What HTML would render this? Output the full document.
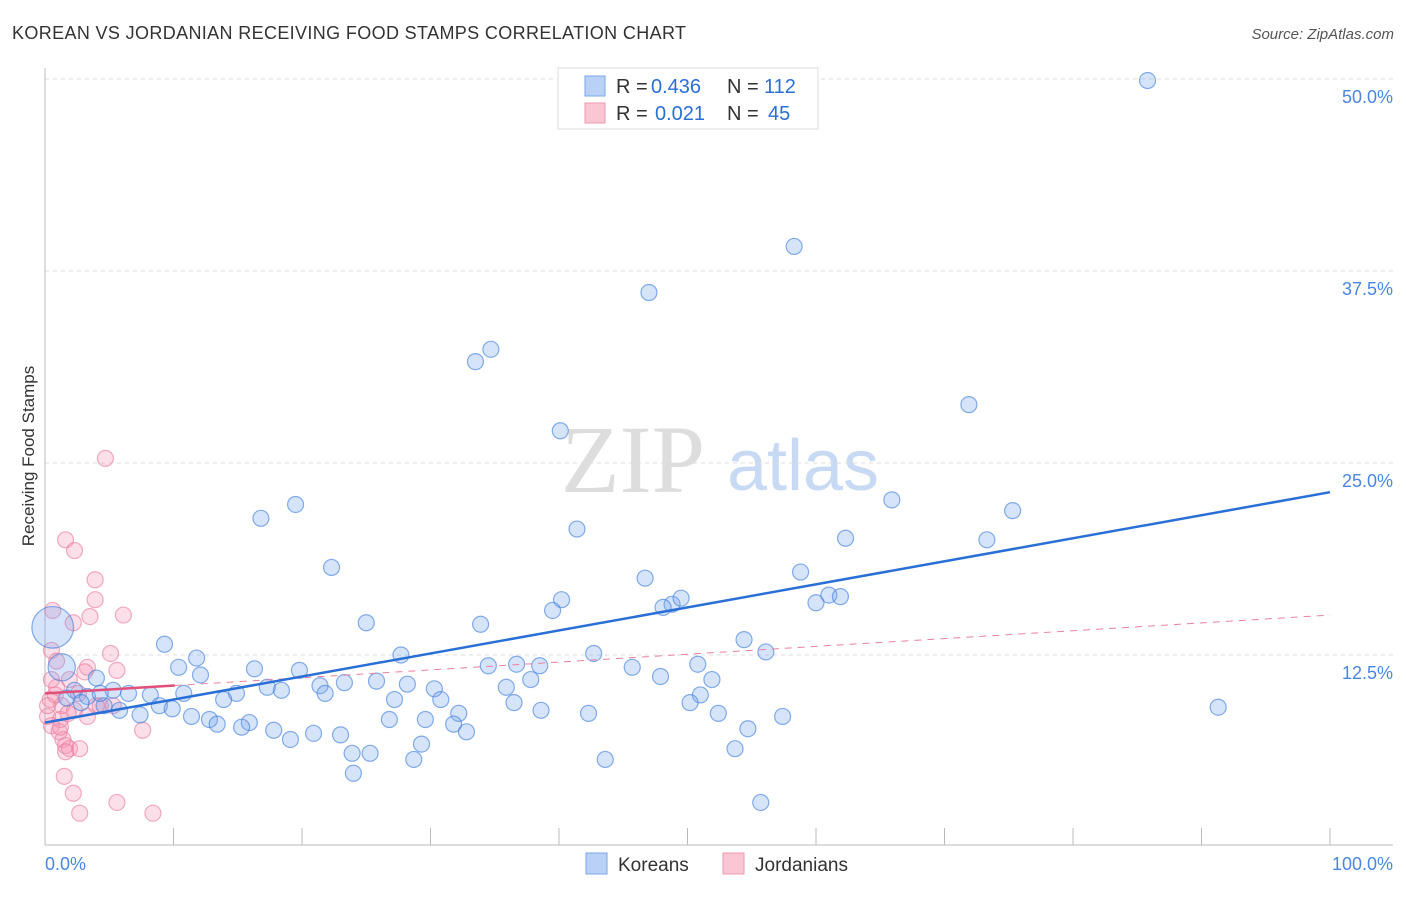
<!DOCTYPE html>
<html><head><meta charset="utf-8"><style>
body{margin:0;background:#fff;font-family:"Liberation Sans",sans-serif;}
svg text{font-family:"Liberation Sans",sans-serif;}
svg text.serif{font-family:"Liberation Serif",serif;}
</style></head><body>
<svg id="c" width="1406" height="892">
<text x="12" y="39" font-size="18" fill="#333" textLength="674">KOREAN VS JORDANIAN RECEIVING FOOD STAMPS CORRELATION CHART</text>
<text x="1394" y="39" font-size="15" fill="#555" font-style="italic" text-anchor="end">Source: ZipAtlas.com</text>
<text transform="translate(34,456) rotate(-90)" font-size="17" fill="#333" text-anchor="middle">Receiving Food Stamps</text>
<text class="serif" x="633" y="492" font-size="96" fill="#ddd" text-anchor="middle">ZIP</text>
<text x="803" y="490" font-size="72" fill="#c8daf3" text-anchor="middle">atlas</text>
<g id="grid"></g><g id="marks"></g>
<g>
<rect x="558" y="68" width="260" height="61" fill="#fff" stroke="#ddd"/>
<rect x="585" y="76" width="20" height="20" fill="#b9d1f5" stroke="#7aa6e6"/>
<rect x="585" y="103" width="20" height="20" fill="#fac6d4" stroke="#ee9ab2"/>
<text x="616" y="93" font-size="20" fill="#333">R =</text>
<text x="651" y="93" font-size="20" fill="#2a6fd6">0.436</text>
<text x="727" y="93" font-size="20" fill="#333">N =</text>
<text x="764" y="93" font-size="20" fill="#2a6fd6">112</text>
<text x="616" y="120" font-size="20" fill="#333">R =</text>
<text x="655" y="120" font-size="20" fill="#2a6fd6">0.021</text>
<text x="727" y="120" font-size="20" fill="#333">N =</text>
<text x="768" y="120" font-size="20" fill="#2a6fd6">45</text>
</g>
<g>
<rect x="586" y="853" width="21" height="21" fill="#b9d1f5" stroke="#7aa6e6"/>
<text x="618" y="871" font-size="19" fill="#333">Koreans</text>
<rect x="723" y="853" width="21" height="21" fill="#fac6d4" stroke="#ee9ab2"/>
<text x="755" y="871" font-size="19" fill="#333">Jordanians</text>
</g>
</svg>
<script>
const yTicks=[12.5,25,37.5,50];
const yTickLabels=["12.5%","25.0%","37.5%","50.0%"];
const xTickLabels=["0.0%","100.0%"];
const koreanX=[85.8,58.3,47.0,34.7,33.5,40.1,71.9,19.5,16.8,65.9,75.3,41.4,73.3,62.3,22.3,46.7,58.8,40.2,39.5,48.8,49.5,48.1,60.0,61.0,61.9,25.0,33.9,9.3,54.4,56.1,42.7,27.7,11.8,10.4,16.3,19.8,34.5,36.7,38.5,45.7,50.8,12.1,37.8,47.9,51.9,4.0,25.8,28.2,23.3,21.4,17.3,18.4,30.3,35.9,1.3,0.6,2.3,5.3,6.5,8.2,10.8,14.9,21.8,30.8,13.9,27.2,51.0,50.2,36.5,32.2,38.6,42.3,52.4,57.4,91.3,3.3,4.6,5.8,7.4,8.9,9.9,11.4,12.8,13.4,15.9,15.3,17.8,19.1,20.9,23.0,26.8,29.6,31.8,32.8,29.3,28.7,23.9,25.3,24.0,43.6,53.7,54.7,55.7,2.8,1.7,4.3];
const koreanY=[49.9,39.1,36.1,32.4,31.6,27.1,28.8,22.3,21.4,22.6,21.9,20.7,20.0,20.1,18.2,17.5,17.9,16.1,15.4,15.8,16.2,15.6,15.9,16.4,16.3,14.6,14.5,13.2,13.5,12.7,12.6,12.5,12.3,11.7,11.6,11.5,11.8,11.9,11.8,11.7,11.9,11.2,10.9,11.1,10.9,11.0,10.8,10.6,10.7,10.5,10.4,10.2,10.3,10.4,11.7,14.3,10.2,10.2,10.0,9.9,10.0,10.0,10.0,9.6,9.6,9.6,9.9,9.4,9.4,8.7,8.9,8.7,8.7,8.5,9.1,9.8,9.2,8.9,8.6,9.2,9.0,8.5,8.3,8.0,8.1,7.8,7.6,7.0,7.4,7.3,8.3,8.3,8.0,7.5,6.7,5.7,6.1,6.1,4.8,5.7,6.4,7.7,2.9,9.4,9.7,10.0];
const koreanSize=[1,1,1,1,1,1,1,1,1,1,1,1,1,1,1,1,1,1,1,1,1,1,1,1,1,1,1,1,1,1,1,1,1,1,1,1,1,1,1,1,1,1,1,1,1,1,1,1,1,1,1,1,1,1,1.7,2.6,1,1,1,1,1,1,1,1,1,1,1,1,1,1,1,1,1,1,1,1,1,1,1,1,1,1,1,1,1,1,1,1,1,1,1,1,1,1,1,1,1,1,1,1,1,1,1,1,1,1];
const jordX=[4.7,1.6,2.3,3.9,3.9,3.5,6.1,2.2,0.6,0.5,5.1,0.9,3.3,3.1,5.6,1.9,0.9,2.6,0.4,0.2,1.3,2.3,4.3,4.0,5.3,1.2,0.5,1.1,1.4,1.6,1.9,2.7,1.5,2.2,5.6,2.7,8.4,7.6,0.2,0.8,1.8,3.3,1.2,0.5,1.6];
const jordY=[25.3,20.0,19.3,17.4,16.1,15.0,15.1,14.6,15.4,12.8,12.6,12.1,11.7,11.4,11.5,10.9,10.4,10.0,9.6,8.5,9.2,8.9,9.2,9.2,9.2,8.3,7.9,7.5,7.0,6.6,6.4,6.4,4.6,3.5,2.9,2.2,2.2,7.6,9.2,9.9,8.7,8.5,7.8,10.9,6.2];
const koreanTrend=[8.1,23.1];
const jordTrend=[10.0,15.1];
const jordSolidEnd=10.1;

const X0=45,X1=1330,Y0=847,PX=15.36;
const sx=v=>X0+(X1-X0)*v/100;
const sy=v=>Y0-v*PX;
const NS="http://www.w3.org/2000/svg";
function mk(t,a,p){const e=document.createElementNS(NS,t);for(const k in a)e.setAttribute(k,a[k]);p.appendChild(e);return e;}
const grid=document.getElementById('grid'),marks=document.getElementById('marks');
yTicks.forEach((t,i)=>{
 const g=mk('line',{x1:45,x2:1393,y1:sy(t),y2:sy(t),stroke:'#ddd','stroke-dasharray':'4,4'},grid);
 
 
 const tx=mk('text',{x:1393,y:sy(t)+24,'font-size':18,fill:'#4a86e0','text-anchor':'end'},grid);
 tx.textContent=yTickLabels[i];
 
 
});
const ax=mk('line',{x1:45,x2:1393,y1:845,y2:845,stroke:'#bbb'},grid);


const ay=mk('line',{x1:45,x2:45,y1:68,y2:845,stroke:'#bbb'},grid);


for(let i=1;i<=10;i++){
 const t=mk('line',{x1:sx(i*10),x2:sx(i*10),y1:828,y2:845,stroke:'#bbb'},grid);
 
 
}
const l0=mk('text',{x:45,y:870,'font-size':18,fill:'#4a86e0'},grid);l0.textContent=xTickLabels[0];


const l1=mk('text',{x:1393,y:870,'font-size':18,fill:'#4a86e0','text-anchor':'end'},grid);l1.textContent=xTickLabels[1];


jordX.forEach((x,i)=>{
 const c=mk('circle',{cx:sx(x),cy:sy(jordY[i]),r:8,fill:'rgba(244,150,178,0.3)',stroke:'rgba(232,120,155,0.6)','stroke-width':1.2},marks);
 
 
});
koreanX.forEach((x,i)=>{
 const c=mk('circle',{cx:sx(x),cy:sy(koreanY[i]),r:8*koreanSize[i],fill:'rgba(120,165,235,0.3)',stroke:'rgba(70,130,220,0.65)','stroke-width':1.2},marks);
 
 
});
const jy=x=>jordTrend[0]+(jordTrend[1]-jordTrend[0])*x/100;
const pd=mk('line',{x1:sx(jordSolidEnd),y1:sy(jy(jordSolidEnd)),x2:sx(100),y2:sy(jordTrend[1]),stroke:'#e8809f','stroke-width':1,'stroke-dasharray':'7,6'},marks);


const ps=mk('line',{x1:sx(0),y1:sy(jordTrend[0]),x2:sx(jordSolidEnd),y2:sy(jy(jordSolidEnd)),stroke:'#e0507a','stroke-width':2.5},marks);


const kl=mk('line',{x1:sx(0),y1:sy(koreanTrend[0]),x2:sx(100),y2:sy(koreanTrend[1]),stroke:'#2a6fd6','stroke-width':2.5},marks);


</script>
</body></html>
